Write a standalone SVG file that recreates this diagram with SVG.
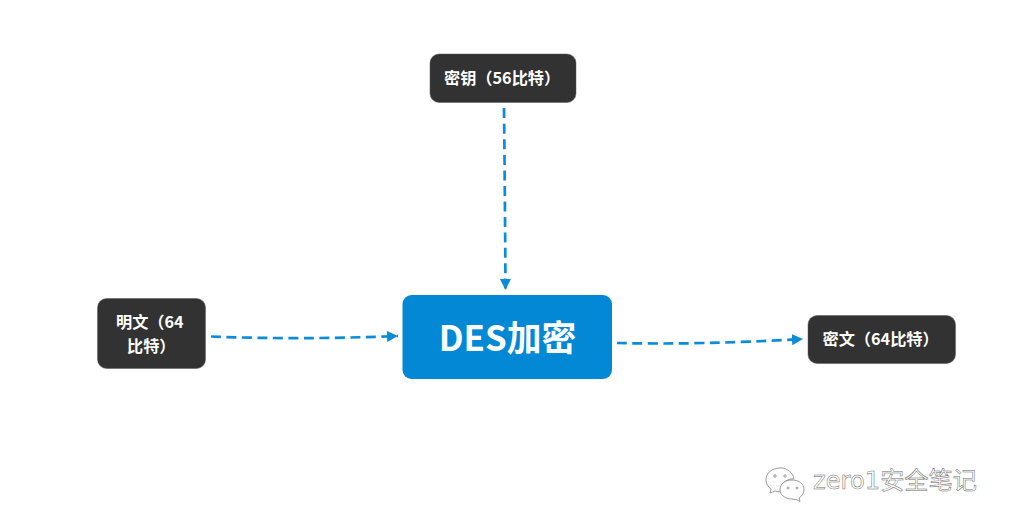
<svg xmlns="http://www.w3.org/2000/svg" width="1010" height="524" viewBox="0 0 1010 524">
<style>
.n{fill:#323232;stroke:#5a5a5a;stroke-width:.5}
.t{font-family:"Noto Sans CJK SC","Open Sans",sans-serif;font-size:16.200px;font-weight:700;fill:#fff}
.c{fill:none;stroke:#0c8cd8;stroke-width:2.700;stroke-dasharray:10 5.500}
.w{font-family:"DejaVu Sans","Noto Sans CJK SC",sans-serif;font-size:24.200px;fill:#fff;stroke:#6a6a6a;stroke-width:.5}
.i{fill:#fff;stroke:#8e8e8e;stroke-width:.9}
</style>
<defs><marker id="a" markerUnits="userSpaceOnUse" markerWidth="12" markerHeight="12" refX="11" refY="6" orient="auto"><path d="M0 .5L11 6L0 11.500z" fill="#0c8cd8"/></marker></defs>
<rect width="1010" height="524" fill="#fff"/>
<g id="connectors">
<path class="c" d="M504 108Q505 200 505.500 290" marker-end="url(#a)"/>
<path class="c" d="M211 336.500Q300 340 398 336" marker-end="url(#a)"/>
<path class="c" d="M617 343Q700 345 803 339" marker-end="url(#a)"/>
</g>
<g id="key"><rect class="n" x="430" y="54" width="146" height="48.500" rx="9"/><text class="t" x="444" y="84">密钥（56比特）</text></g>
<g id="plain"><rect class="n" x="97.500" y="298.500" width="108" height="70" rx="9"/><text class="t" x="116" y="328">明文（64</text><text class="t" x="127" y="351.500">比特）</text></g>
<g id="des"><rect x="402.500" y="295" width="209.500" height="84" rx="9" fill="#0288d4"/><text x="507.500" y="351" text-anchor="middle" font-family="'Noto Sans CJK SC','Open Sans',sans-serif" font-size="34.800" font-weight="700" fill="#fff">DES加密</text></g>
<g id="cipher"><rect class="n" x="808" y="315.500" width="147.500" height="48" rx="9"/><text class="t" x="822.500" y="345">密文（64比特）</text></g>
<g id="watermark">
<path class="i" d="M780 468c-8 0-14 5-14 12 0 4 2 7 5 9l-1 4 5-2c2 .6 4 1 6 .8-2-7 4-13 13-13-1-6-7-11-14-11z"/>
<path class="i" d="M792 480c-7 0-12 4-12 9.500s5 9.500 12 9.500l5 .8 3 2-.8-4c3-2 4.800-5 4.800-8.300 0-5.500-5-9.500-12-9.500z"/>
<circle class="i" cx="775" cy="476" r="1.200"/><circle class="i" cx="785" cy="476" r="1.200"/><circle class="i" cx="788" cy="488" r="1"/><circle class="i" cx="797" cy="488" r="1"/>
<text class="w" x="813" y="489">zero1安全笔记</text>
</g>
</svg>
